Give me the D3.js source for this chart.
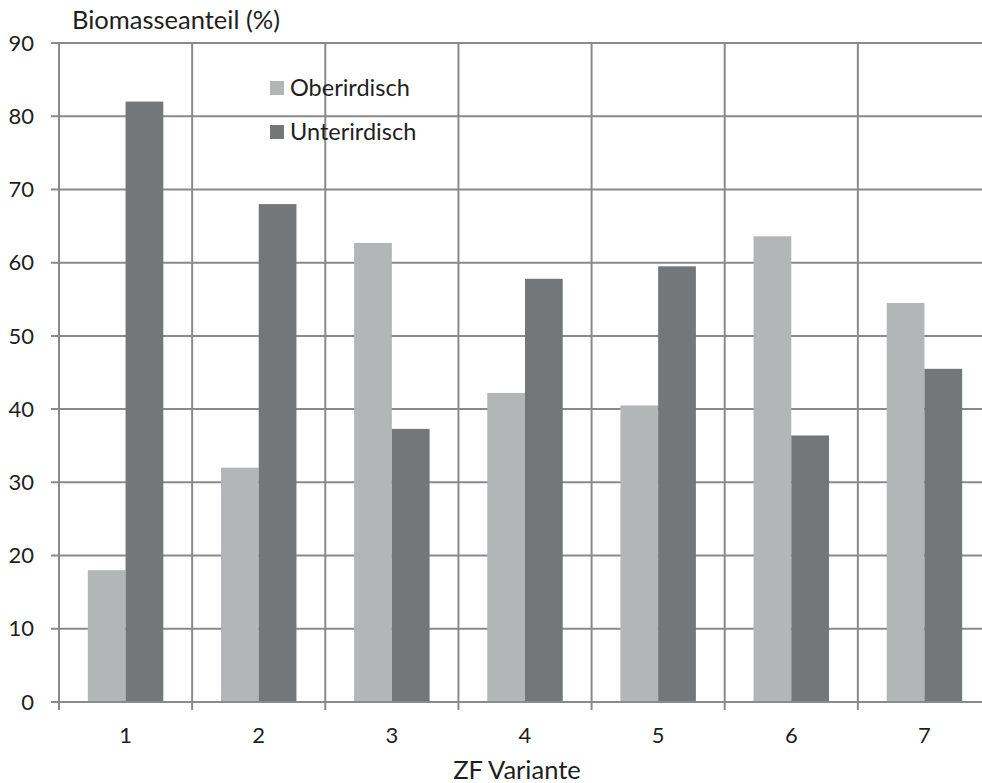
<!DOCTYPE html>
<html>
<head>
<meta charset="utf-8">
<script src="https://cdn.jsdelivr.net/npm/d3@7"></script>
<style>
  html, body { margin: 0; padding: 0; background: #fff; }
  svg { display: block; font-family: Lato, "Open Sans", sans-serif; }
</style>
</head>
<body>
<svg id="chart" width="982" height="783"></svg>
<script>
// Biomass share above/below ground per catch-crop variant
const categories = ["1", "2", "3", "4", "5", "6", "7"];
const seriesNames = ["Oberirdisch", "Unterirdisch"];
const oberirdisch = [18.0, 32.0, 62.7, 42.2, 40.5, 63.6, 54.5];
const unterirdisch = [82.0, 68.0, 37.3, 57.8, 59.5, 36.4, 45.5];
const yTicks = [0, 10, 20, 30, 40, 50, 60, 70, 80, 90];
const colors = ["#b2b6b7", "#73777a"];

const svg = d3.select("#chart");
const gridColor = "#8a8a8a";
const textColor = "#1e1e1e";

const x = d3.scaleBand().domain(categories).range([59, 991]).paddingInner(0).paddingOuter(0);
const y = d3.scaleLinear().domain([0, 90]).range([702, 43]);
const inner = d3.scaleBand().domain(seriesNames).range([0, x.bandwidth()]).paddingInner(0).paddingOuter(0.764);

// horizontal gridlines
svg.append("g").selectAll("line").data(yTicks).join("line")
  .attr("x1", 51).attr("x2", 991)
  .attr("y1", d => y(d)).attr("y2", d => y(d))
  .attr("stroke", gridColor).attr("stroke-width", 2);

// vertical gridlines at category boundaries (also act as x ticks)
const bounds = categories.map(c => x(c)).concat([x(categories[categories.length - 1]) + x.bandwidth()]);
svg.append("g").selectAll("line").data(bounds).join("line")
  .attr("x1", d => d).attr("x2", d => d)
  .attr("y1", 43).attr("y2", 710)
  .attr("stroke", gridColor).attr("stroke-width", 2);

// bars
const rows = categories.map((c, i) => ({ cat: c, values: [oberirdisch[i], unterirdisch[i]] }));
const groups = svg.append("g").selectAll("g").data(rows).join("g")
  .attr("transform", d => `translate(${x(d.cat)},0)`);
groups.selectAll("rect").data(d => d.values.map((v, j) => ({ name: seriesNames[j], v, j }))).join("rect")
  .attr("x", d => inner(d.name))
  .attr("width", inner.bandwidth())
  .attr("y", d => y(d.v))
  .attr("height", d => y(0) - y(d.v))
  .attr("fill", d => colors[d.j]);

// baseline redrawn over bars
svg.append("line").attr("x1", 51).attr("x2", 991).attr("y1", y(0)).attr("y2", y(0))
  .attr("stroke", gridColor).attr("stroke-width", 2);

// y tick labels
svg.append("g").selectAll("text").data(yTicks).join("text")
  .attr("x", 34).attr("y", d => y(d)).attr("dy", "0.35em")
  .attr("text-anchor", "end").attr("font-size", 22).attr("fill", textColor)
  .text(d => d);

// x tick labels
svg.append("g").selectAll("text").data(categories).join("text")
  .attr("x", d => x(d) + x.bandwidth() / 2).attr("y", 743)
  .attr("text-anchor", "middle").attr("font-size", 22).attr("fill", textColor)
  .text(d => d);

// axis titles
svg.append("text").attr("x", 72).attr("y", 29).attr("font-size", 25.5).attr("fill", textColor)
  .text("Biomasseanteil (%)");
svg.append("text").attr("x", 517).attr("y", 779).attr("text-anchor", "middle")
  .attr("font-size", 25.5).attr("fill", textColor).text("ZF Variante");

// legend
const legend = svg.append("g").selectAll("g").data(seriesNames).join("g")
  .attr("transform", (d, i) => `translate(270,${88 + i * 44})`);
legend.append("rect").attr("x", 0).attr("y", -7).attr("width", 14).attr("height", 14)
  .attr("fill", (d, i) => colors[i]);
legend.append("text").attr("x", 20).attr("y", 0).attr("dy", "0.35em")
  .attr("font-size", 23.5).attr("fill", textColor).text(d => d);
</script>
</body>
</html>
